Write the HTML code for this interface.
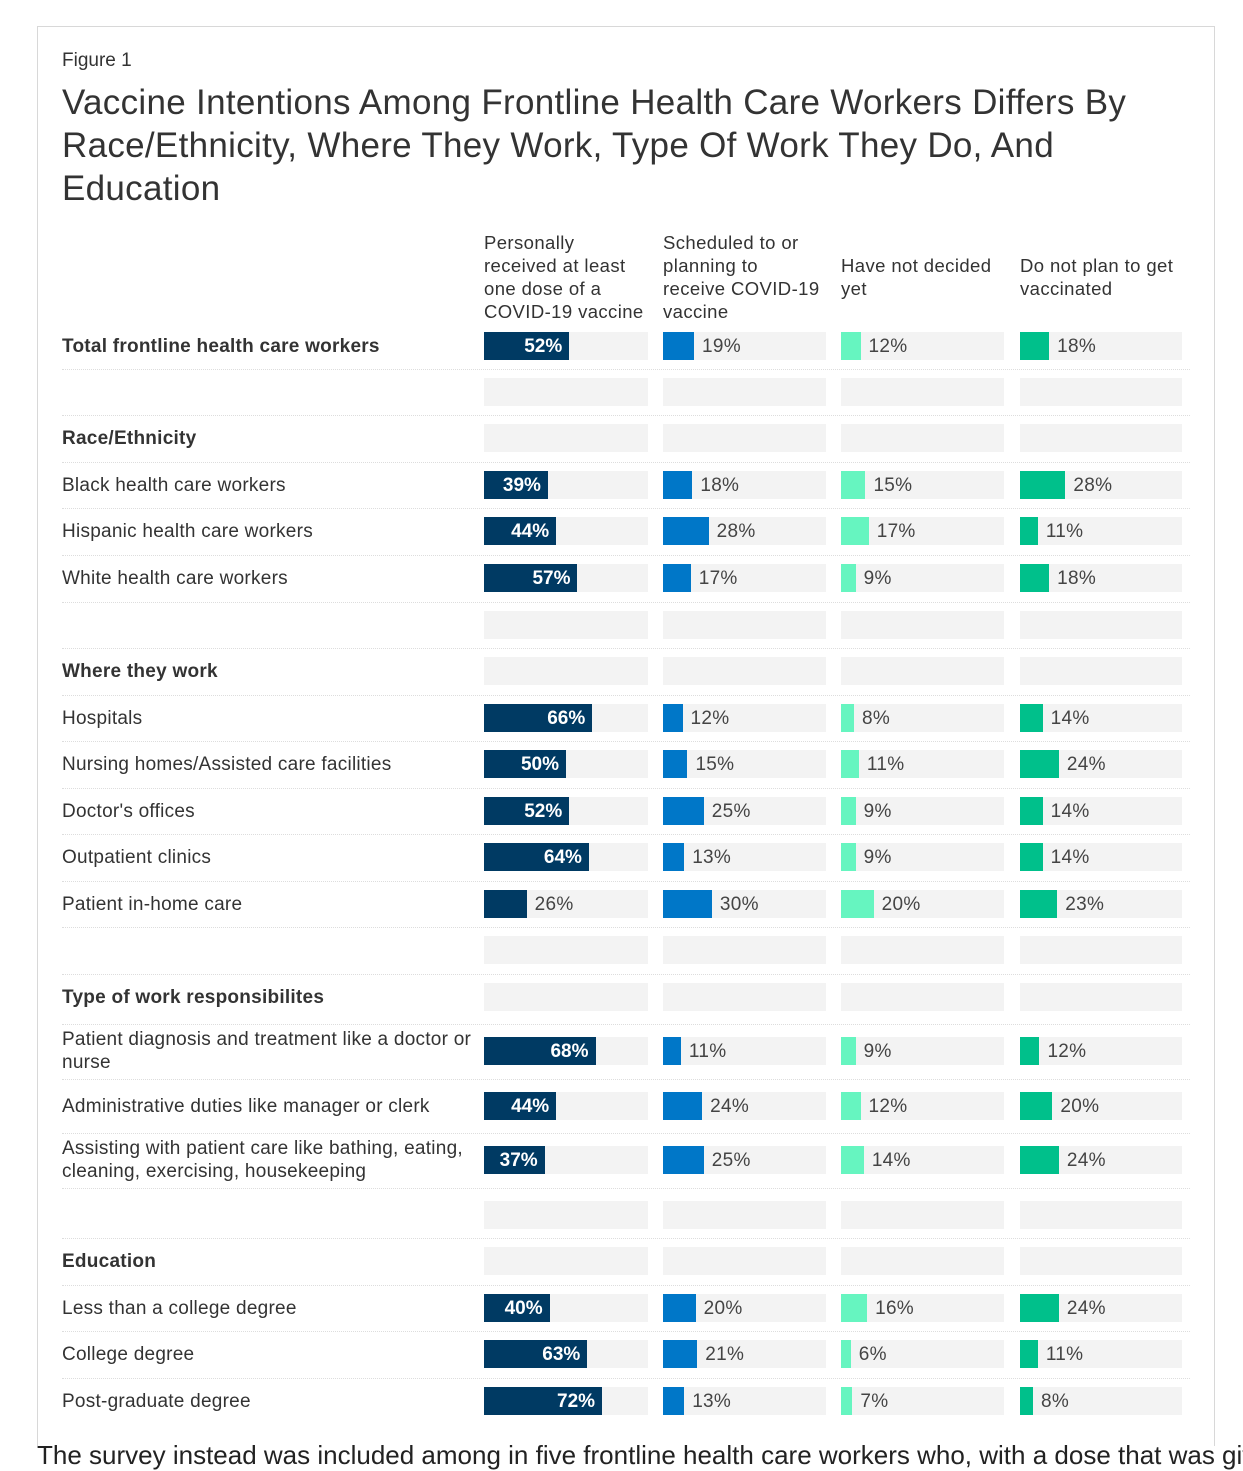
<!DOCTYPE html>
<html><head><meta charset="utf-8"><style>
body{margin:0;width:1243px;height:1447px;background:#fff;font-family:"Liberation Sans",Arial,sans-serif;position:relative;overflow:hidden;color:#333}
#card{position:absolute;left:37px;top:26px;width:1178px;height:1420px;border:1px solid #d8d8d8;border-bottom:none;box-sizing:border-box}
.abs{position:absolute;white-space:nowrap}
.hdr{font-size:18.5px;line-height:23px;white-space:normal;letter-spacing:0.4px}
</style></head><body>
<div id="card"></div>
<div class="abs" style="left:62px;top:50px;font-size:19px;color:#333">Figure 1</div>
<div class="abs" style="left:62px;top:81px;font-size:35px;line-height:43px;letter-spacing:0.3px;color:#333;white-space:normal;width:1100px">Vaccine Intentions Among Frontline Health Care Workers Differs By Race/Ethnicity, Where They Work, Type Of Work They Do, And Education</div>
<div class="abs hdr" style="left:484px;top:231px;width:160px">Personally received at least one dose of a COVID-19 vaccine</div>
<div class="abs hdr" style="left:663px;top:231px;width:160px">Scheduled to or planning to receive COVID-19 vaccine</div>
<div class="abs hdr" style="left:841px;top:254px;width:160px">Have not decided yet</div>
<div class="abs hdr" style="left:1020px;top:254px;width:160px">Do not plan to get vaccinated</div>
<div id="rows"></div>
<div class="abs" style="left:37px;top:1440px;font-size:26px;color:#222">The survey instead was included among in five frontline health care workers who, with a dose that was given</div>
<script>
const categories=["Total frontline health care workers","","Race/Ethnicity","Black health care workers","Hispanic health care workers","White health care workers","","Where they work","Hospitals","Nursing homes/Assisted care facilities","Doctor's offices","Outpatient clinics","Patient in-home care","","Type of work responsibilites","Patient diagnosis and treatment like a doctor or nurse","Administrative duties like manager or clerk","Assisting with patient care like bathing, eating, cleaning, exercising, housekeeping","","Education","Less than a college degree","College degree","Post-graduate degree"];
const boldRows=[0,2,7,14,19];
const received=[52,null,null,39,44,57,null,null,66,50,52,64,26,null,null,68,44,37,null,null,40,63,72];
const scheduled=[19,null,null,18,28,17,null,null,12,15,25,13,30,null,null,11,24,25,null,null,20,21,13];
const undecided=[12,null,null,15,17,9,null,null,8,11,9,9,20,null,null,9,12,14,null,null,16,6,7];
const notPlan=[18,null,null,28,11,18,null,null,14,24,14,14,23,null,null,12,20,24,null,null,24,11,8];
const rowCenters=[346,392,438,485,531,578,625,671,718,764,811,857,904,950,997,1051,1106,1160,1215,1261,1308,1354,1401];
const series=[received,scheduled,undecided,notPlan];
const seriesNames=["received","scheduled","undecided","not-plan"];
const colX=[484,663,841,1020],trackW=[164,163,163,162];
const colors=["#003a63","#0077c8","#66f5c0","#00c08b"];
const R=document.getElementById('rows');
function xScale(c,v){return trackW[c]*v/100;}
function mk(style,name,txt){const d=document.createElement('div');d.className='abs';d.style.cssText=style;


if(txt!=null)d.textContent=txt;R.appendChild(d);return d;}
categories.forEach((cat,i)=>{
 const cy=rowCenters[i];
 const twoLine=cat.length>48;
 if(cat){mk(`left:62px;top:${cy-(twoLine?23:11)}px;font-size:19px;line-height:23px;letter-spacing:0.25px;white-space:normal;width:415px;color:#333;${boldRows.includes(i)?'font-weight:bold;':''}`,'row-label',cat);}
 if(i<categories.length-1){const nb=(rowCenters[i]+rowCenters[i+1])/2;
  mk(`left:62px;top:${nb}px;width:1128px;height:0;border-top:1px dotted #ddd`,'row-divider');}
 series.forEach((s,c)=>{
  mk(`left:${colX[c]}px;top:${cy-14}px;width:${trackW[c]}px;height:28px;background:#f3f3f3`,'bar-track');
  const v=s[i];if(v==null)return;
  const w=xScale(c,v);
  mk(`left:${colX[c]}px;top:${cy-14}px;width:${w}px;height:28px;background:${colors[c]}`,'bar-'+seriesNames[c]);
  if(v>=35){mk(`left:${colX[c]}px;top:${cy-10}px;width:${w-7}px;text-align:right;font-size:19px;font-weight:bold;color:#fff`,'value-label',v+'%');}
  else{mk(`left:${colX[c]+w+8}px;top:${cy-10}px;font-size:19px;color:#444;letter-spacing:0.3px`,'value-label',v+'%');}
 });
});
</script>
</body></html>
